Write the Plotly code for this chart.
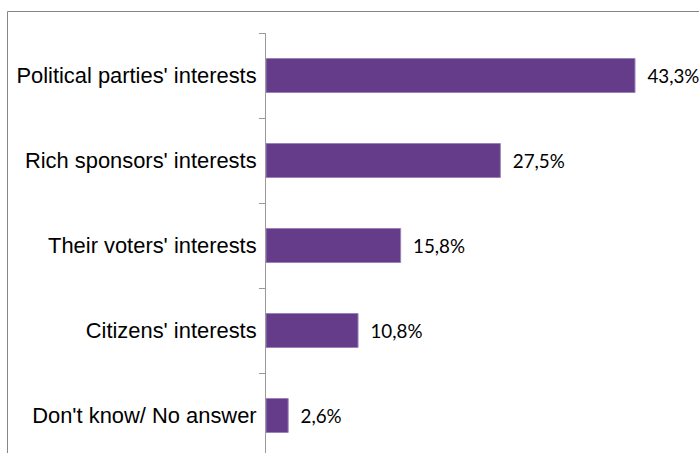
import plotly.graph_objects as go

# Survey answers, listed bottom to top as drawn on the category axis
categories = [
    "Don't know/ No answer",
    "Citizens' interests",
    "Their voters' interests",
    "Rich sponsors' interests",
    "Political parties' interests",
]
shares = [2.6, 10.8, 15.8, 27.5, 43.3]
# an en space keeps the value labels a little away from the bar ends
labels = ["\u2002" + f"{v:.1f}%".replace(".", ",") for v in shares]

W, H = 699, 453
ML, MR, MT, MB = 266, 6, 33, 0
plot_w = W - ML - MR
plot_h = H - MT - MB

fig = go.Figure(
    go.Bar(
        x=shares,
        y=categories,
        orientation="h",
        width=0.4,
        marker=dict(color="#653C89", line=dict(color="#9A82B8", width=1)),
        text=labels,
        textposition="outside",
        textfont=dict(family="Lato, Carlito, sans-serif", size=18.8, color="#000000"),
        cliponaxis=False,
        hoverinfo="skip",
    )
)

# vertical scale: 85 px per category, top boundary at the plot top
px_per_cat = 85.0
y_top = 4.5
y_bottom = y_top - plot_h / px_per_cat

px_per_unit = 369 / 43.3
x_max = plot_w / px_per_unit

fig.update_layout(
    width=W,
    height=H,
    margin=dict(l=ML, r=MR, t=MT, b=MB, pad=0),
    paper_bgcolor="white",
    plot_bgcolor="white",
    showlegend=False,
    bargap=0.6,
    xaxis=dict(
        range=[0, x_max],
        visible=False,
        fixedrange=True,
    ),
    yaxis=dict(
        type="category",
        categoryorder="array",
        categoryarray=categories,
        range=[y_bottom, y_top],
        tickson="boundaries",
        ticks="outside",
        ticklen=6,
        tickcolor="#9A9A9A",
        tickwidth=1,
        showline=True,
        linecolor="#9A9A9A",
        linewidth=1,
        showgrid=False,
        ticklabelstandoff=4,
        tickfont=dict(family="Liberation Sans, Arial, sans-serif", size=21.9, color="#000000"),
        fixedrange=True,
    ),
)

# outer chart frame (extends past the right and bottom of the page)
fig.add_shape(
    type="rect",
    xref="paper",
    yref="paper",
    x0=(7.5 - ML) / plot_w,
    x1=1.2,
    y0=-0.2,
    y1=1 + (MT - 11.5) / plot_h,
    line=dict(color="#868686", width=1),
    fillcolor="rgba(0,0,0,0)",
    layer="below",
)

fig.write_html("out.html")
